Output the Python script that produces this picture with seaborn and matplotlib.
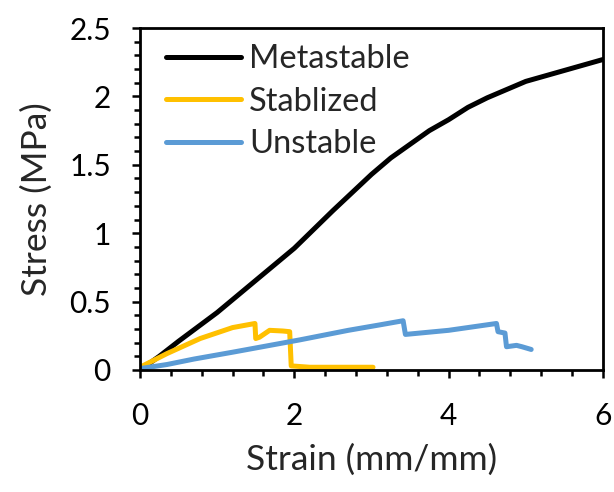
import pandas as pd
import matplotlib
matplotlib.use("Agg")
import matplotlib.pyplot as plt
import seaborn as sns
from matplotlib.ticker import MultipleLocator, FuncFormatter

# curves
meta_strain = [0, 0.25, 0.5, 1.0, 1.5, 2.0, 2.5, 3.0, 3.25, 3.5, 3.75, 4.0, 4.25, 4.5,
               4.75, 5.0, 5.25, 5.5, 5.75, 6.0]
meta_stress = [0, 0.1, 0.21, 0.42, 0.655, 0.89, 1.165, 1.43, 1.55, 1.65, 1.75, 1.83, 1.92,
               1.99, 2.05, 2.11, 2.15, 2.19, 2.23, 2.27]

stab_strain = [0, 0.35, 0.78, 1.2, 1.49, 1.5, 1.55, 1.68, 1.85, 1.94, 1.96, 2.2, 2.6, 3.02]
stab_stress = [0.02, 0.12, 0.23, 0.31, 0.34, 0.23, 0.24, 0.29, 0.285, 0.28, 0.03, 0.02, 0.02, 0.02]

unst_strain = [0, 0.35, 0.7, 1.2, 2.07, 2.7, 3.11, 3.41, 3.44, 4.0, 4.62, 4.64, 4.73, 4.75,
               4.88, 4.95, 5.07]
unst_stress = [0.01, 0.04, 0.08, 0.13, 0.22, 0.29, 0.33, 0.36, 0.26, 0.29, 0.34, 0.28, 0.27,
               0.17, 0.18, 0.17, 0.15]

names = ["Metastable", "Stablized", "Unstable"]
colors = ["#000000", "#FFC000", "#5B9BD5"]

frames = []
for nm, xs, ys in zip(names, [meta_strain, stab_strain, unst_strain],
                      [meta_stress, stab_stress, unst_stress]):
    frames.append(pd.DataFrame({"strain": xs, "stress": ys, "sample": nm}))
df = pd.concat(frames, ignore_index=True)

sns.set_style("ticks")
plt.rcParams["font.family"] = ["Lato", "DejaVu Sans"]
# tick look set through rc so the ticks get built with it
for a in ("xtick", "ytick"):
    plt.rcParams[a + ".direction"] = "out"
    plt.rcParams[a + ".color"] = "black"
    plt.rcParams[a + ".labelcolor"] = "black"
    plt.rcParams[a + ".major.size"] = 6
    plt.rcParams[a + ".major.width"] = 1.8
    plt.rcParams[a + ".minor.size"] = 4
    plt.rcParams[a + ".minor.width"] = 1.8
    plt.rcParams[a + ".labelsize"] = 21.5
plt.rcParams["xtick.major.pad"] = 17
plt.rcParams["ytick.major.pad"] = 15
plt.rcParams["xtick.bottom"] = True
plt.rcParams["ytick.left"] = True
plt.rcParams["axes.linewidth"] = 2
plt.rcParams["axes.edgecolor"] = "black"

fig = plt.figure(figsize=(6.14, 4.92), dpi=100)
ax = fig.add_axes([0.228, 0.248, 0.754, 0.695])

sns.lineplot(data=df, x="strain", y="stress", hue="sample", palette=colors,
             hue_order=names, sort=False, estimator=None, linewidth=3.6, ax=ax)

ax.set_xlim(0, 6)
ax.set_ylim(0, 2.5)
ax.xaxis.set_major_locator(MultipleLocator(2))
ax.xaxis.set_minor_locator(MultipleLocator(0.4))
ax.yaxis.set_major_locator(MultipleLocator(0.5))
ax.yaxis.set_minor_locator(MultipleLocator(0.1))
ax.yaxis.set_major_formatter(FuncFormatter(lambda v, p: f"{v:g}"))

ax.set_xlabel("Strain (mm/mm)", fontsize=25.5, labelpad=10)
ax.set_ylabel("Stress (MPa)", fontsize=25.5, labelpad=12)

ax.legend(loc="upper left", bbox_to_anchor=(0.02, 1.0), frameon=False,
          fontsize=23.5, handlelength=2.3, handletextpad=0.25, labelspacing=0.38,
          borderpad=0)

fig.savefig("out.png", dpi=100)
